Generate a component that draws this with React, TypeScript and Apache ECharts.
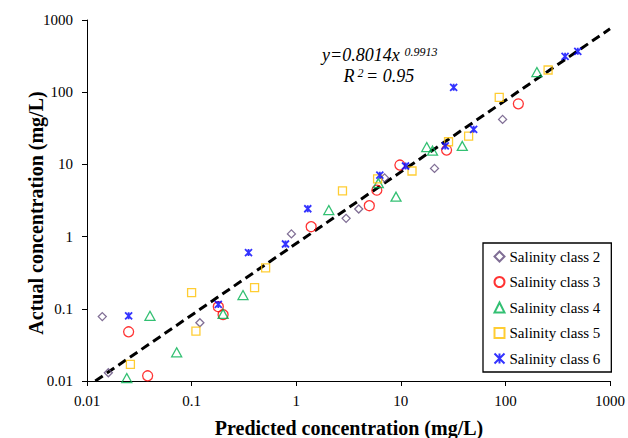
import React, { useEffect, useRef } from "react";
import * as echarts from "echarts";

const seriesNames = ["Salinity class 2", "Salinity class 3", "Salinity class 4", "Salinity class 5", "Salinity class 6"];

const class2: [number, number][] = [
  [0.014, 0.078], [0.016, 0.013], [0.12, 0.064], [0.9, 1.09], [3.0, 1.79],
  [3.96, 2.41], [7.0, 6.5], [21, 8.8], [94, 42],
];
const class3: [number, number][] = [
  [0.025, 0.048], [0.038, 0.0118], [0.18, 0.107], [0.2, 0.083], [1.39, 1.37],
  [5.0, 2.68], [5.9, 4.4], [9.8, 9.8], [27.4, 15.8], [133, 69],
];
const class4: [number, number][] = [
  [0.024, 0.011], [0.04, 0.08], [0.072, 0.025], [0.2, 0.085], [0.31, 0.155],
  [2.05, 2.33], [6.1, 5.5], [9.0, 3.57], [17.7, 17.4], [20.1, 15.5], [38.7, 18], [200, 190],
];
const class5: [number, number][] = [
  [0.026, 0.017], [0.1, 0.167], [0.11, 0.049], [0.4, 0.196], [0.51, 0.37],
  [2.77, 4.3], [6.0, 6.3], [12.8, 8.1], [28.6, 20.6], [44.5, 24.7], [87.3, 85], [256, 203],
];
const class6: [number, number][] = [
  [0.025, 0.08], [0.18, 0.115], [0.35, 0.6], [0.79, 0.79], [1.29, 2.43],
  [6.3, 7.1], [11.1, 9.5], [26.6, 18], [32, 117], [49.7, 30.6], [372, 314], [492, 368],
];
// fit y = 0.8014 x^0.9913, endpoints on log-log axes
const fitLine: [number, number][] = [[0.012, 0.01], [1000, 755]];

const xTickLabels = ["0.01", "0.1", "1", "10", "100", "1000"];
const yTickLabels = ["0.01", "0.1", "1", "10", "100", "1000"];

const FONT = "Liberation Serif";
const STAR = "path://M0,0L10,10M10,0L0,10M5,0L5,10";

export default function App() {
  const ref = useRef<HTMLDivElement>(null);
  useEffect(() => {
    if (!ref.current) return;
    const chart = echarts.init(ref.current, undefined, { renderer: "svg" });
    const mk = (name: string, data: [number, number][], symbol: string, size: any, color: string, bw = 1.3) => ({
      type: "scatter",
      name,
      data,
      symbol,
      symbolSize: size,
      itemStyle: { color: "none", borderColor: color, borderWidth: bw },
      z: 3,
    });
    const axisCommon = {
      type: "log",
      logBase: 10,
      min: 0.01,
      max: 1000,
      axisLine: { show: true, lineStyle: { color: "#000", width: 1 } },
      axisTick: { show: true, inside: false, length: 5, lineStyle: { color: "#000", width: 1 } },
      minorTick: { show: false },
      splitLine: { show: false },
    };
    chart.setOption({
      animation: false,
      backgroundColor: "#fff",
      textStyle: { fontFamily: FONT },
      grid: { left: 87, right: 17, top: 20, bottom: 57, containLabel: false },
      xAxis: {
        ...axisCommon,
        axisLabel: {
          color: "#000",
          fontSize: 15,
          fontFamily: FONT,
          margin: 12,
          formatter: (v: number) => xTickLabels[Math.round(Math.log10(v)) + 2],
        },
      },
      yAxis: {
        ...axisCommon,
        axisLabel: {
          color: "#000",
          fontSize: 15,
          fontFamily: FONT,
          margin: 14,
          formatter: (v: number) => yTickLabels[Math.round(Math.log10(v)) + 2],
        },
      },
      legend: {
        orient: "vertical",
        left: 483,
        top: 243,
        data: seriesNames,
        itemWidth: 10,
        itemHeight: 10,
        itemGap: 10.5,
        padding: [6, 11, 6, 9],
        borderColor: "#000",
        borderWidth: 1.3,
        backgroundColor: "#fff",
        textStyle: { fontSize: 15, color: "#000", fontFamily: FONT },
      },
      graphic: [
        { type: "text", x: 322, y: 54.5, style: { text: "y=0.8014x", font: `italic 18px "${FONT}"`, fill: "#000", align: "left", verticalAlign: "middle" } },
        { type: "text", x: 404.5, y: 51.5, style: { text: "0.9913", font: `italic 12px "${FONT}"`, fill: "#000", align: "left", verticalAlign: "middle" } },
        { type: "text", x: 343.5, y: 75.6, style: { text: "R", font: `italic 18px "${FONT}"`, fill: "#000", align: "left", verticalAlign: "middle" } },
        { type: "text", x: 357.5, y: 72.7, style: { text: "2", font: `italic 12px "${FONT}"`, fill: "#000", align: "left", verticalAlign: "middle" } },
        { type: "text", x: 366, y: 75.6, style: { text: "= 0.95", font: `italic 18px "${FONT}"`, fill: "#000", align: "left", verticalAlign: "middle" } },
        { type: "text", x: 349, y: 428, style: { text: "Predicted concentration (mg/L)", font: `bold 20px "${FONT}"`, fill: "#000", align: "center", verticalAlign: "middle" } },
        { type: "text", x: 36, y: 213, rotation: Math.PI / 2, style: { text: "Actual concentration (mg/L)", font: `bold 20px "${FONT}"`, fill: "#000", align: "center", verticalAlign: "middle" } },
      ],
      series: [
        {
          type: "line",
          name: "fit",
          data: fitLine,
          symbol: "none",
          lineStyle: { color: "#000", width: 3, type: [9, 5] },
          silent: true,
          clip: true,
          z: 2,
        },
        mk(seriesNames[0], class2, "diamond", 8, "#604a7b"),
        mk(seriesNames[1], class3, "circle", 10, "#ff0000"),
        mk(seriesNames[2], class4, "triangle", [10, 9], "#00b050"),
        mk(seriesNames[3], class5, "rect", 8, "#ffc000"),
        mk(seriesNames[4], class6, STAR, 7, "#0000ff", 1.8),
      ],
    });
    return () => chart.dispose();
  }, []);
  return <div ref={ref} style={{ position: "fixed", left: 0, top: 0, width: 628, height: 438 }} />;
}
